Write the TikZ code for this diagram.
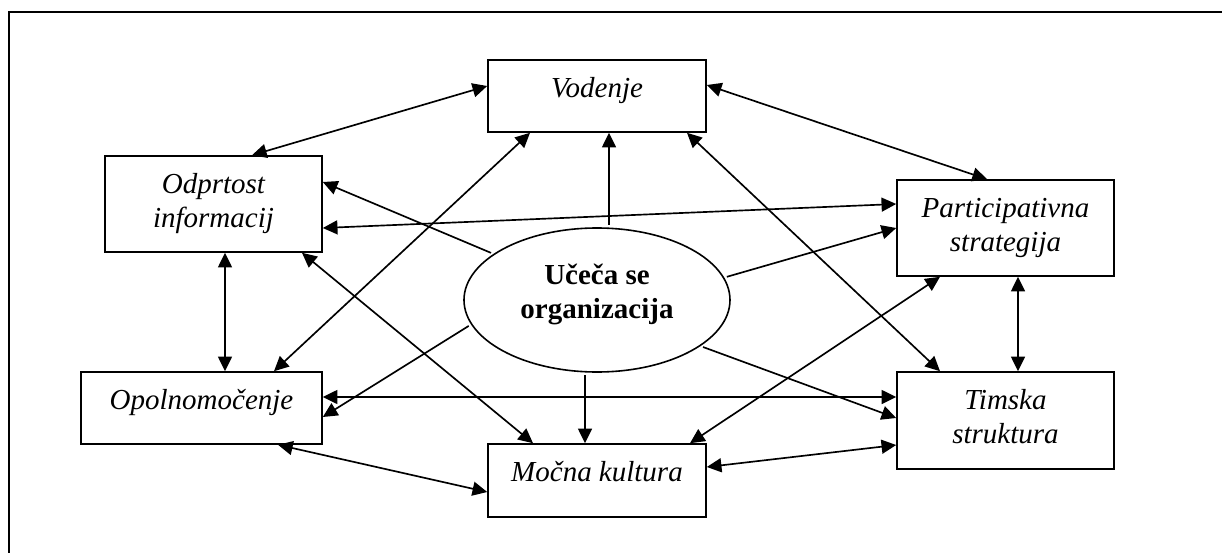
\documentclass[tikz,border=0pt]{standalone}
\usepackage{fontspec}
\setmainfont{Liberation Serif}
\usetikzlibrary{arrows.meta,shapes.geometric,calc}

\begin{document}
\begin{tikzpicture}[x=0.75pt,y=-0.75pt,
  tip/.tip={Triangle[length=11pt,width=10.5pt]},
  cell/.style={draw, line width=1.2pt, inner sep=0pt, align=flush center,
    font=\fontsize{21.75pt}{25.5pt}\selectfont\itshape, text height=27.75pt},
  core/.style={draw, ellipse, line width=1.2pt, inner sep=0pt, align=flush center,
    minimum width=199.5pt, minimum height=108pt, text width=130pt,
    text height=14pt, text depth=38pt,
    font=\fontsize{21.75pt}{25.5pt}\selectfont\bfseries},
  both/.style={tip-tip, line width=1.25pt},
  one/.style={-tip, line width=1.25pt, shorten <=2pt}]

\useasboundingbox (0,0) rectangle (1222,553);

% frame
\draw[line width=1.5pt] (9,553) -- (9,12) -- (1222,12);

% boxes
\node[cell, text width=163.5pt, text depth=26.25pt] (vod) at (597,96) {Vodenje};
\node[cell, text width=162.75pt, text depth=44.25pt] (odp) at (213.5,204) {Odprtost\\informacij};
\node[cell, text width=162.75pt, text depth=44.25pt] (par) at (1005.5,228) {Participativna\\strategija};
\node[cell, text width=180.75pt, text depth=26.25pt] (opl) at (201.5,408) {Opolnomočenje};
\node[cell, text width=163.5pt, text depth=27pt] (mku) at (597,480.5) {Močna kultura};
\node[cell, text width=162.75pt, text depth=45pt] (tim) at (1005.5,420.5) {Timska\\struktura};

% centre
\node[core] (ell) at (597,300) {Učeča se\\organizacija};

% two-way links between the boxes
\draw[both] ($(vod.west)+(0,-10)$) -- ($(odp.north)+(38.5,0)$);
\draw[both] ($(vod.east)+(0,-11)$) -- ($(par.north)+(-18.5,0)$);
\draw[both] ($(vod.south)+(-67,0)$) -- ($(opl.north)+(72.5,0)$);
\draw[both] ($(vod.south)+(90,0)$) -- ($(tim.north)+(-65.5,0)$);
\draw[both] ($(odp.east)+(0,24)$) -- ($(par.west)+(0,-24)$);
\draw[both] ($(odp.south)+(11.5,0)$) -- ($(opl.north)+(23.5,0)$);
\draw[both] ($(odp.south)+(88.5,0)$) -- ($(mku.north)+(-64,0)$);
\draw[both] ($(par.south)+(12.5,0)$) -- ($(tim.north)+(12.5,0)$);
\draw[both] ($(par.south)+(-65.5,0)$) -- ($(mku.north)+(93,0)$);
\draw[both] ($(opl.east)+(0,-11)$) -- ($(tim.west)+(0,-23.5)$);
\draw[both] ($(opl.south)+(76.5,0)$) -- ($(mku.west)+(0,11.5)$);
\draw[both] ($(mku.east)+(0,-13.5)$) -- ($(tim.west)+(0,24.5)$);

% links from the centre
\draw[one] ($(ell.north)+(12,0)$) -- ($(vod.south)+(12,0)$);
\draw[one] ($(ell.south)+(-12,0)$) -- ($(mku.north)+(-12,0)$);
\draw[one] (ell.156) -- ($(odp.east)+(0,-22)$);
\draw[one] (ell.10) -- (par.west);
\draw[one] (ell.191) -- ($(opl.east)+(0,9)$);
\draw[one] (ell.-24) -- ($(tim.west)+(0,-2.5)$);
\end{tikzpicture}
\end{document}
